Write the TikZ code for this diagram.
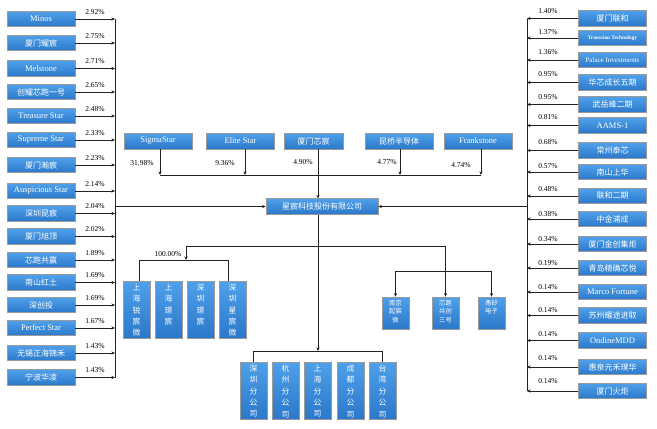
\documentclass[tikz,border=0pt]{standalone}
\usepackage{fontspec}
\setmainfont{Liberation Serif}
\newfontfamily\cjk{Noto Sans CJK SC}
\usetikzlibrary{arrows.meta}
\definecolor{bltop}{HTML}{4FA0EA}
\definecolor{blbot}{HTML}{2B78CA}
\definecolor{bord}{HTML}{9A9A9A}
\definecolor{ink}{HTML}{222222}
\tikzset{
 box/.style={draw=bord, line width=0.6pt, top color=bltop, bottom color=blbot, text=white, inner sep=0pt, font=\fontsize{8.5}{10}\selectfont},
 sbox/.style={box, minimum width=68pt, minimum height=15.5pt},
 en/.style={},
 zh/.style={font=\cjk\fontsize{8}{10}\selectfont},
 tt/.style={font=\bfseries\fontsize{5.3}{6}\selectfont},
 pi/.style={font=\fontsize{7}{8}\selectfont},
 ln/.style={draw=ink, line width=0.9pt},
 arr/.style={ln, -{Stealth[length=3.6pt,width=3.2pt]}},
 pct/.style={font=\fontsize{7.5}{9}\selectfont, inner sep=0pt, text=black},
 vlab/.style={anchor=north, yshift=-3pt, text=white, align=center, inner sep=0pt, font=\cjk\fontsize{7.8}{11.4}\selectfont},
 slab/.style={anchor=north, yshift=-3pt, text=white, align=center, inner sep=0pt, font=\cjk\fontsize{6.3}{8.4}\selectfont},
}
\begin{document}
\begin{tikzpicture}[x=1pt,y=-1pt]
\useasboundingbox (0,0) rectangle (657,429);
\fill[white] (0,0) rectangle (657,429);
\coordinate (lv) at (115,0);
\coordinate (rv) at (527,0);
\coordinate (tb) at (0,175);
\coordinate (lvl) at (0,246);
\coordinate (gbus) at (0,260);
\coordinate (hbus) at (0,271);
\coordinate (bbus) at (0,351);

% main company
\node[box, zh, minimum width=112pt, minimum height=15.5pt] (main) at (322,206.5) {星宸科技股份有限公司};

% left shareholders
\foreach \i/\y/\s/\t/\p in {
1/19/en/Minos/2.92,
2/43/zh/厦门耀宸/2.75,
3/68.5/en/Melstone/2.71,
4/92/zh/创耀芯跑一号/2.65,
5/116/en/Treasure Star/2.48,
6/140/en/Supreme Star/2.33,
7/165/zh/厦门瀚宸/2.23,
8/191/en/Auspicious Star/2.14,
9/213.5/zh/深圳昆宸/2.04,
10/236.5/zh/厦门旭顶/2.02,
11/260/zh/芯跑共赢/1.89,
12/282.5/zh/南山红土/1.69,
13/305/zh/深创投/1.69,
14/328/en/Perfect Star/1.67,
15/353/zh/无锡正海锦禾/1.43,
16/377.5/zh/宁波华凌/1.43}{
 \node[sbox,\s] (L\i) at (41,\y) {\t};
 \node[pct] (pL\i) at (95,{\y-7}) {\p\%};
 \draw[arr] (L\i.east) -- (L\i.east -| lv);
}
\draw[ln] (L1.east -| lv) -- (L16.east -| lv);
\draw[arr] (main.west -| lv) -- (main.west);

% right shareholders
\foreach \i/\y/\s/\t/\p/\ly in {
1/18.5/zh/厦门联和/1.40/11,
2/38/tt/Transsion Technology/1.37/32,
3/60/pi/Palace Investments/1.36/52,
4/82.5/zh/华芯成长五期/0.95/74,
5/104.5/zh/武岳峰二期/0.95/97,
6/125.5/en/AAMS-1/0.81/117,
7/150.5/zh/常州泰芯/0.68/142,
8/172/zh/南山上华/0.57/166,
9/196/zh/联和二期/0.48/189,
10/219/zh/中金浦成/0.38/214,
11/244/zh/厦门金创集炬/0.34/239,
12/268/zh/青岛精确芯悦/0.19/263,
13/292/en/Marco Fortune/0.14/287,
14/315.5/zh/苏州耀途进取/0.14/310,
15/340.5/en/OndineMDD/0.14/334,
16/367/zh/惠泉元禾璞华/0.14/358,
17/391/zh/厦门火炬/0.14/381}{
 \node[sbox,\s] (R\i) at (612.5,\y) {\t};
 \node[pct] (pR\i) at (548,\ly) {\p\%};
 \draw[arr] (R\i.west) -- (R\i.west -| rv);
}
\draw[ln] (R1.west -| rv) -- (R17.west -| rv);
\draw[arr] (main.east -| rv) -- (main.east);

% top shareholders
\node[box, minimum width=68pt, minimum height=16pt] (S1) at (158,141) {SigmaStar};
\node[box, minimum width=68pt, minimum height=16pt] (S2) at (240.5,141) {Elite Star};
\node[box, zh, minimum width=59pt, minimum height=16pt] (S3) at (313.5,141) {厦门芯宸};
\node[box, zh, minimum width=68pt, minimum height=16pt] (S4) at (399,141) {昆桥半导体};
\node[box, minimum width=68pt, minimum height=16pt] (S5) at (478,141) {Frankstone};
\coordinate (s1b) at ([xshift=2pt]S1.south);
\coordinate (s2b) at ([xshift=4.5pt]S2.south);
\coordinate (s3b) at ([xshift=4.5pt]S3.south);
\coordinate (s4b) at ([xshift=1pt]S4.south);
\coordinate (s5b) at ([xshift=3pt]S5.south);
\draw[ln] (s1b |- tb) -- (s5b |- tb);
\draw[arr] (s1b) -- (s1b |- tb);
\draw[arr] (s2b) -- (s2b |- tb);
\draw[arr] (s4b) -- (s4b |- tb);
\draw[arr] (s5b) -- (s5b |- tb);
\draw[arr] (s3b) -- (s3b |- main.north);
\node[pct] (pS1) at (142,163) {31.98\%};
\node[pct] (pS2) at (225,163) {9.36\%};
\node[pct] (pS3) at (303,162) {4.90\%};
\node[pct] (pS4) at (387,162) {4.77\%};
\node[pct] (pS5) at (461,165) {4.74\%};

% left subsidiary group
\node[box, minimum width=27pt, minimum height=57pt, label={[vlab]north:上\\海\\锐\\宸\\微}] (G1) at (136.5,309.5) {};
\node[box, minimum width=27pt, minimum height=57pt, label={[vlab]north:上\\海\\璟\\宸}] (G2) at (168.5,309.5) {};
\node[box, minimum width=27pt, minimum height=57pt, label={[vlab]north:深\\圳\\璟\\宸}] (G3) at (200.5,309.5) {};
\node[box, minimum width=27pt, minimum height=57pt, label={[vlab]north:深\\圳\\星\\宸\\微}] (G4) at (232.5,309.5) {};

% right subsidiary group
\node[box, minimum width=27pt, minimum height=32pt, label={[slab]north:南京\\起宸\\微}] (H1) at (395.5,313) {};
\node[box, minimum width=27pt, minimum height=32pt, label={[slab]north:芯跑\\共创\\三号}] (H2) at (445.5,313) {};
\node[box, minimum width=27pt, minimum height=32pt, label={[slab]north:甬矽\\电子}] (H3) at (491.5,313) {};

% branch offices
\node[box, minimum width=27pt, minimum height=57pt, label={[vlab]north:深\\圳\\分\\公\\司}] (B1) at (253.5,390.5) {};
\node[box, minimum width=27pt, minimum height=57pt, label={[vlab]north:杭\\州\\分\\公\\司}] (B2) at (285.5,390.5) {};
\node[box, minimum width=27pt, minimum height=57pt, label={[vlab]north:上\\海\\分\\公\\司}] (B3) at (317.5,390.5) {};
\node[box, minimum width=27pt, minimum height=57pt, label={[vlab]north:成\\都\\分\\公\\司}] (B4) at (350.5,390.5) {};
\node[box, minimum width=27pt, minimum height=57pt, label={[vlab]north:台\\湾\\分\\公\\司}] (B5) at (382.5,390.5) {};

% connectors below main
\coordinate (tr) at ([xshift=-4pt]main.south);
\coordinate (gtop) at (186,246);
\coordinate (htop) at (H2.north |- lvl);
\draw[arr] (tr) -- (tr |- bbus);
\draw[ln] (gtop) -- (htop);
\draw[arr] (gtop) -- (gtop |- gbus);
\coordinate (g1t) at ([xshift=2.5pt]G1.north);
\coordinate (g4t) at ([xshift=-4.5pt]G4.north);
\draw[ln] (g1t) -- (g1t |- gbus) -- (g4t |- gbus) -- (g4t);
\node[pct] (pG) at (168,254) {100.00\%};
\draw[ln] (H1.north |- hbus) -- (H3.north |- hbus);
\draw[arr] (H1.north |- hbus) -- (H1.north);
\draw[arr] (H3.north |- hbus) -- (H3.north);
\draw[arr] (htop) -- (H2.north);
\draw[ln] (B1.north) -- (B1.north |- bbus) -- (B5.north |- bbus) -- (B5.north);
\end{tikzpicture}
\end{document}
